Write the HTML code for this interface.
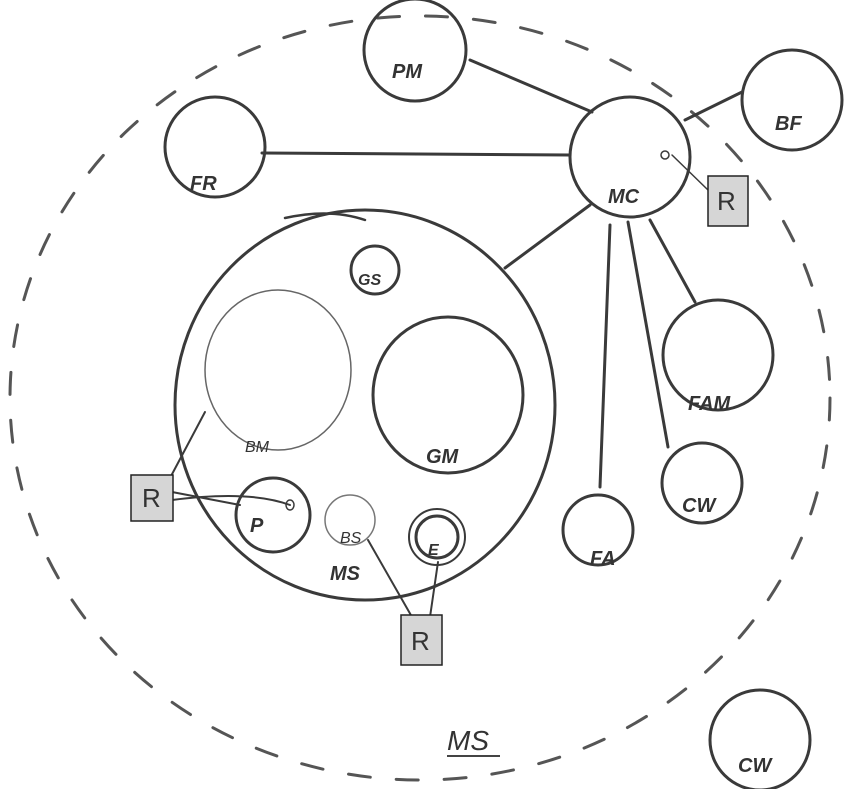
<!DOCTYPE html>
<html><head><meta charset="utf-8"><style>
html,body{margin:0;padding:0;background:#fff;}
svg{display:block}
text{font-family:"Liberation Sans",sans-serif;fill:#333;}
</style></head><body>
<svg width="850" height="789" viewBox="0 0 850 789" xmlns="http://www.w3.org/2000/svg">
<g fill="none" stroke="#3a3a3a" stroke-width="3" stroke-linecap="round">
<!-- outer dashed MS -->
<ellipse cx="420" cy="398" rx="410" ry="382" stroke-width="3" stroke-dasharray="22 26" stroke="#555"/>
<!-- connectors -->
<line x1="470" y1="60" x2="592" y2="112"/>
<line x1="685" y1="120" x2="742" y2="92"/>
<line x1="262" y1="153" x2="570" y2="155"/>
<line x1="505" y1="268" x2="590" y2="205"/>
<line x1="610" y1="225" x2="600" y2="487"/>
<line x1="628" y1="222" x2="668" y2="447"/>
<line x1="650" y1="220" x2="695" y2="302"/>
<line x1="672" y1="155" x2="708" y2="190" stroke-width="1.5"/>
<!-- top nodes -->
<circle cx="415" cy="50" r="51"/>
<circle cx="792" cy="100" r="50"/>
<circle cx="215" cy="147" r="50"/>
<circle cx="630" cy="157" r="60"/>
<circle cx="665" cy="155" r="4" stroke-width="1.5"/>
<!-- inner MS -->
<ellipse cx="365" cy="405" rx="190" ry="195"/>
<path d="M285 218 Q330 208 365 220" stroke-width="2.5"/>
<circle cx="375" cy="270" r="24"/>
<ellipse cx="278" cy="370" rx="73" ry="80" stroke-width="1.5" stroke="#666"/>
<ellipse cx="448" cy="395" rx="75" ry="78"/>
<circle cx="273" cy="515" r="37"/>
<ellipse cx="290" cy="505" rx="4" ry="5" stroke-width="1.5"/>
<circle cx="350" cy="520" r="25" stroke-width="1.5" stroke="#777"/>
<circle cx="437" cy="537" r="28" stroke-width="2"/>
<circle cx="437" cy="537" r="21"/>
<!-- right nodes -->
<circle cx="718" cy="355" r="55"/>
<circle cx="702" cy="483" r="40"/>
<circle cx="598" cy="530" r="35"/>
<circle cx="760" cy="740" r="50"/>
<!-- R connectors -->
<line x1="205" y1="412" x2="170" y2="478" stroke-width="2"/>
<line x1="172" y1="492" x2="240" y2="505" stroke-width="2"/>
<path d="M172 500 Q250 490 290 505" stroke-width="2"/>
<line x1="368" y1="540" x2="412" y2="617" stroke-width="2"/>
<line x1="438" y1="562" x2="430" y2="617" stroke-width="2"/>
</g>
<!-- R boxes -->
<g fill="#d6d6d6" stroke="#222" stroke-width="1.5">
<rect x="708" y="176" width="40" height="50"/>
<rect x="131" y="475" width="42" height="46"/>
<rect x="401" y="615" width="41" height="50"/>
</g>
<g font-size="26">
<text x="717" y="210">R</text>
<text x="142" y="507">R</text>
<text x="411" y="650">R</text>
</g>
<g font-size="20" font-weight="bold" font-style="italic" fill="#333">
<text x="392" y="78">PM</text>
<text x="775" y="130">BF</text>
<text x="190" y="190">FR</text>
<text x="608" y="203">MC</text>
<text x="358" y="285" font-size="16">GS</text>
<text x="426" y="463">GM</text>
<text x="688" y="410">FAM</text>
<text x="682" y="512">CW</text>
<text x="590" y="565">FA</text>
<text x="738" y="772">CW</text>
<text x="250" y="532">P</text>
<text x="428" y="555" font-size="16">E</text>
<text x="330" y="580">MS</text>
<text x="447" y="750" font-size="28" font-weight="normal">MS</text>
</g>
<g font-size="16" fill="#666" font-style="italic">
<text x="245" y="452">BM</text>
<text x="340" y="543">BS</text>
</g>
<line x1="447" y1="756" x2="500" y2="756" stroke="#444" stroke-width="2"/>
</svg>
</body></html>
